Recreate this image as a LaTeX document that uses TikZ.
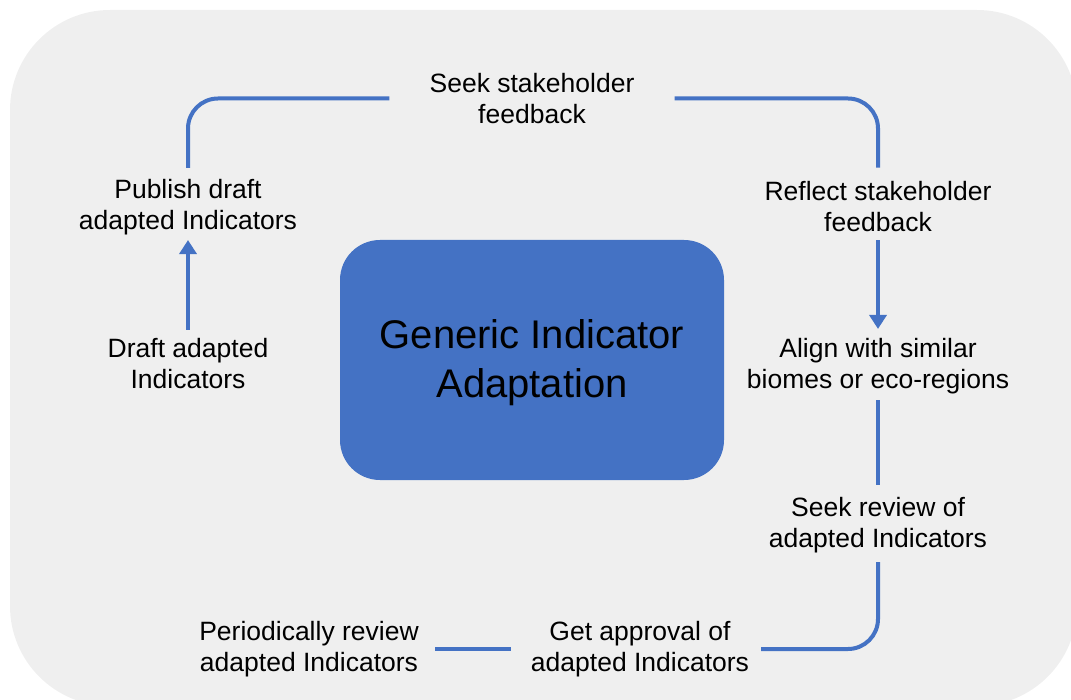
\documentclass[tikz,border=0pt]{standalone}
\usepackage{fontspec}
\setmainfont{Liberation Sans}
\usepackage{tikz}
\usetikzlibrary{arrows.meta}
\usetikzlibrary{positioning}
\usepackage{xcolor}
\definecolor{panelgray}{HTML}{EFEFEF}
\definecolor{cycleblue}{HTML}{4472C4}

\begin{document}
\begin{tikzpicture}[x=1pt, y=-1pt,
	stage/.style={align=center, inner sep=0pt, font=\fontsize{26.5}{31}\selectfont},
	hub/.style={rectangle, rounded corners=40pt, fill=cycleblue, minimum width=384pt, minimum height=240pt, align=center, font=\fontsize{40}{49}\selectfont},
	link/.style={draw=cycleblue, line width=4pt, rounded corners=30pt},
	flow/.style={link, -{Triangle[width=17pt,length=14pt]}}]
	\useasboundingbox (0,0) rectangle (1071,700);
	\clip (0,0) rectangle (1071,700);
	\fill[panelgray, rounded corners=100pt] (10,10) rectangle (1077,706);

	% centre
	\node[hub] (generic) at (532,360) {\rule{0pt}{35pt}Generic Indicator\\Adaptation};

	% steps of the cycle
	\node[stage] (seekfb) at (532,98.5) {Seek stakeholder\\feedback};
	\node[stage] (publish) at (188,207) {Publish draft\\adapted Indicators};
	\node[stage] (draft) at (188,364) {Draft adapted\\Indicators};
	\node[stage] (reflect) at (878,207) {Reflect stakeholder\\feedback};
	\node[stage] (align) at (878,366.5) {Align with similar\\biomes or eco-regions};
	\node[stage] (seekrev) at (878,525.5) {Seek review of\\adapted Indicators};
	\node[stage] (approval) at (640,649) {Get approval of\\adapted Indicators};
	\node[stage] (periodic) at (309,649) {Periodically review\\adapted Indicators};

	% connectors
	\draw[flow, shorten <=9pt, shorten >=5pt] (draft.north) -- (publish.south);
	\draw[link, shorten <=11pt, shorten >=40pt] (publish.north) |- (seekfb.west);
	\draw[link, shorten <=40pt, shorten >=14pt] (seekfb.east) -| (reflect.north);
	\draw[flow, shorten <=8pt, shorten >=9.5pt] (reflect.south) -- (align.north);
	\draw[link, shorten <=5.5pt, shorten >=12.5pt] (align.south) -- (seekrev.north);
	\draw[link, shorten <=8.5pt, shorten >=12pt] (seekrev.south) |- (approval.east);
	\draw[link, shorten <=20pt, shorten >=16pt] (approval.west) -- (periodic.east);
\end{tikzpicture}
\end{document}
